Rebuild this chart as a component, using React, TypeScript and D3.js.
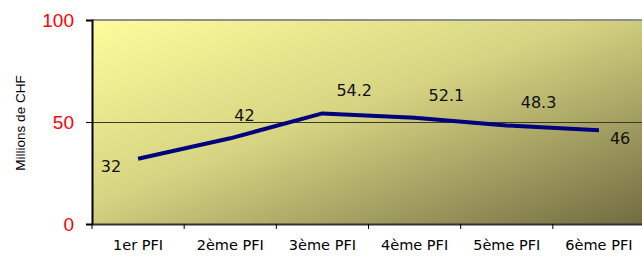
import { useEffect, useRef } from 'react';
import * as d3 from 'd3';

const categories = ['1er PFI', '2ème PFI', '3ème PFI', '4ème PFI', '5ème PFI', '6ème PFI'];
const values = [32, 42, 54.2, 52.1, 48.3, 46];
const yTicks = [0, 50, 100];
const yLabel = 'Millions de CHF';

export default function App() {
  const svgRef = useRef<SVGSVGElement>(null);

  useEffect(() => {
    if (!svgRef.current) return;
    const width = 642;
    const height = 259;
    const margin = { top: 20, right: -3, bottom: 35, left: 92 };

    d3.select(svgRef.current).selectAll('*').remove();
    const svg = d3.select(svgRef.current).attr('width', width).attr('height', height);

    const x = d3
      .scaleBand<string>()
      .domain(categories)
      .range([margin.left, width - margin.right]);
    const y = d3
      .scaleLinear()
      .domain([0, 100])
      .range([height - margin.bottom, margin.top]);

    // Background gradient of plot area
    const defs = svg.append('defs');
    const grad = defs
      .append('linearGradient')
      .attr('id', 'bg')
      .attr('x1', 0)
      .attr('y1', 0)
      .attr('x2', 1)
      .attr('y2', 1);
    grad.append('stop').attr('offset', '0%').attr('stop-color', '#fdfd9c');
    grad.append('stop').attr('offset', '45%').attr('stop-color', '#d6d482');
    grad.append('stop').attr('offset', '100%').attr('stop-color', '#726b42');

    const x0 = margin.left;
    const x1 = width - margin.right;
    svg
      .append('rect')
      .attr('x', x0)
      .attr('y', y(100))
      .attr('width', x1 - x0)
      .attr('height', y(0) - y(100))
      .attr('fill', 'url(#bg)');

    // top border and gridline
    svg
      .append('line')
      .attr('x1', x0)
      .attr('x2', x1)
      .attr('y1', y(100))
      .attr('y2', y(100))
      .attr('stroke', '#8f8f8f')
      .attr('stroke-width', 2);
    svg
      .append('line')
      .attr('x1', x0)
      .attr('x2', x1)
      .attr('y1', y(50) + 0.5)
      .attr('y2', y(50) + 0.5)
      .attr('stroke', '#3a3a2a')
      .attr('stroke-width', 1);

    // Y axis
    const yAxis = svg
      .append('g')
      .attr('transform', `translate(${x0},0)`)
      .call(d3.axisLeft(y).tickValues(yTicks).tickSize(6).tickPadding(12));
    yAxis.select('.domain').attr('stroke', '#000').attr('stroke-width', 2);
    yAxis.selectAll('.tick line').attr('stroke', '#000');
    yAxis
      .selectAll('.tick text')
      .attr('fill', '#ff0000')
      .attr('font-family', 'Liberation Sans, Arial, sans-serif')
      .attr('font-size', 19)
      .attr('dy', '0.36em');

    // X axis
    const xAxis = svg
      .append('g')
      .attr('transform', `translate(0,${y(0)})`)
      .call(d3.axisBottom(x).tickSize(0).tickPadding(16));
    xAxis.select('.domain').attr('stroke', '#333').attr('stroke-width', 2);
    xAxis
      .selectAll('.tick text')
      .attr('fill', '#000')
      .attr('font-family', 'DejaVu Sans, Verdana, sans-serif')
      .attr('font-size', 14.5);
    // band boundary ticks
    svg
      .append('g')
      .selectAll('line')
      .data(categories)
      .enter()
      .append('line')
      .attr('x1', (d) => x(d)!)
      .attr('x2', (d) => x(d)!)
      .attr('y1', y(0))
      .attr('y2', y(0) + 5)
      .attr('stroke', '#000');

    // y label
    svg
      .append('text')
      .attr('transform', `translate(25,${(y(0) + y(100)) / 2 + 1}) rotate(-90)`)
      .attr('text-anchor', 'middle')
      .attr('font-family', 'Liberation Sans, Arial, sans-serif')
      .attr('font-size', 13.5)
      .text(yLabel);

    const cx = (i: number) => x(categories[i])! + x.bandwidth() / 2;

    const line = d3
      .line<number>()
      .x((_, i) => cx(i))
      .y((d) => y(d));
    svg
      .append('path')
      .datum(values)
      .attr('d', line)
      .attr('fill', 'none')
      .attr('stroke', '#00007f')
      .attr('stroke-width', 4)
      .attr('stroke-linejoin', 'round');

    // data labels
    const last = values.length - 1;
    svg
      .append('g')
      .selectAll('text')
      .data(values)
      .enter()
      .append('text')
      .attr('font-family', 'DejaVu Sans, Verdana, sans-serif')
      .attr('font-size', 16)
      .attr('fill', '#111')
      .attr('text-anchor', (_, i) => (i === 0 ? 'end' : 'start'))
      .attr('x', (_, i) => (i === 0 ? cx(i) - 17 : i === last ? cx(i) + 11 : i === 1 ? cx(i) + 4 : cx(i) + 14))
      .attr('y', (d, i) => (i === 0 ? y(d) + 13 : i === last ? y(d) + 14 : y(d) - 17))
      .text((d) => String(d));
  }, []);

  return <svg ref={svgRef} style={{ display: 'block', position: 'absolute', left: 0, top: 0 }} />;
}
